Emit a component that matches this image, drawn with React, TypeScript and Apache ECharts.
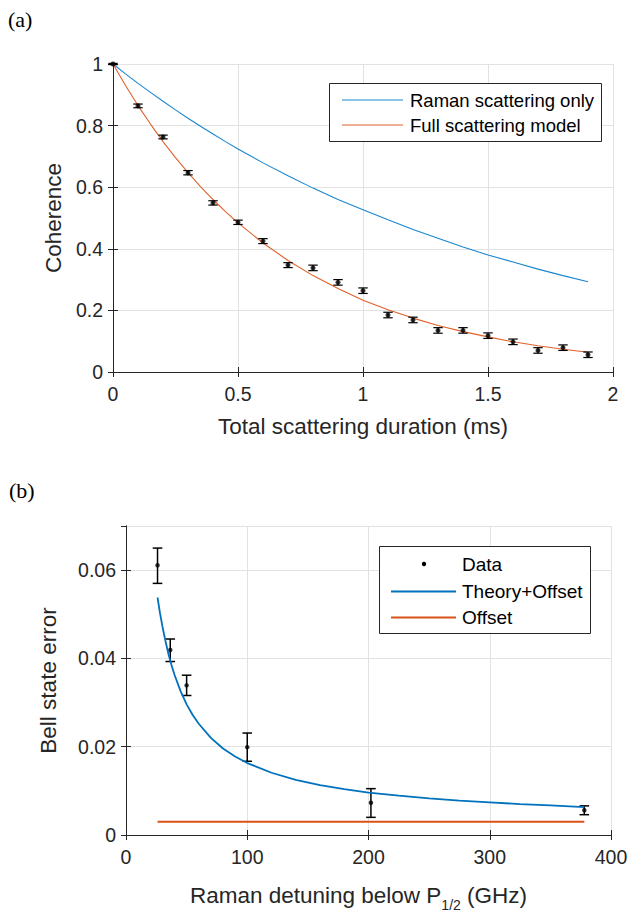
import React, { useEffect, useRef } from "react";
import * as echarts from "echarts";

// ---------- Panel (a) data ----------
const scatterTime = [0, 0.1, 0.2, 0.3, 0.4, 0.5, 0.6, 0.7, 0.8, 0.9, 1.0, 1.1, 1.2, 1.3, 1.4, 1.5, 1.6, 1.7, 1.8, 1.9];
const coherenceData = [1.0, 0.864, 0.763, 0.647, 0.549, 0.486, 0.425, 0.347, 0.338, 0.291, 0.264, 0.185, 0.169, 0.135, 0.135, 0.118, 0.098, 0.07, 0.079, 0.056];
const coherenceErr = [0.002, 0.006, 0.006, 0.007, 0.007, 0.007, 0.008, 0.008, 0.009, 0.009, 0.009, 0.009, 0.009, 0.009, 0.009, 0.009, 0.009, 0.009, 0.009, 0.009];
const curveTime = [0, 0.05, 0.1, 0.15, 0.2, 0.25, 0.3, 0.35, 0.4, 0.45, 0.5, 0.6, 0.7, 0.8, 0.9, 1.0, 1.1, 1.2, 1.3, 1.4, 1.5, 1.6, 1.7, 1.8, 1.9];
const ramanOnly = [1.0, 0.968, 0.937, 0.908, 0.879, 0.851, 0.824, 0.798, 0.773, 0.748, 0.724, 0.679, 0.637, 0.597, 0.56, 0.527, 0.494, 0.463, 0.434, 0.406, 0.38, 0.357, 0.334, 0.313, 0.293];
const fullModel = [1.0, 0.93, 0.865, 0.805, 0.748, 0.696, 0.647, 0.602, 0.56, 0.521, 0.484, 0.419, 0.362, 0.313, 0.271, 0.233, 0.202, 0.175, 0.151, 0.131, 0.114, 0.098, 0.085, 0.074, 0.064];
const xTicksA = { min: 0, max: 2, interval: 0.5 };
const yTicksA = { min: 0, max: 1, interval: 0.2 };

// ---------- Panel (b) data ----------
const detuning = [26, 36.5, 50, 100, 202, 378];
const bellError = [0.0611, 0.0419, 0.0339, 0.0199, 0.0073, 0.0056];
const bellLow = [0.057, 0.0393, 0.0316, 0.0167, 0.004, 0.0046];
const bellHigh = [0.065, 0.0444, 0.0362, 0.0231, 0.0105, 0.0066];
const theoryX = [26, 28, 30, 32.5, 35, 37.5, 40, 45, 50, 55, 60, 70, 80, 90, 100, 120, 140, 160, 180, 200, 225, 250, 275, 300, 325, 350, 378];
const theoryY = [0.0538, 0.0503, 0.0473, 0.044, 0.041, 0.0385, 0.0363, 0.0326, 0.0296, 0.0272, 0.0252, 0.022, 0.0196, 0.0178, 0.0163, 0.0141, 0.0125, 0.0113, 0.0104, 0.0096, 0.0089, 0.0083, 0.0078, 0.0074, 0.007, 0.0067, 0.0063];
const offsetX = [26, 378];
const offsetY = [0.003, 0.003];
const xTicksB = { min: 0, max: 400, interval: 100 };
const yTicksB = { min: 0, max: 0.07, interval: 0.02 };

const legendA = ["Raman scattering only", "Full scattering model"];
const legendB = ["Data", "Theory+Offset", "Offset"];

const BLUE = "#0072BD";
const BLUE_A = "#1a86d0";
const ORANGE = "#D95319";
const ORANGE_A = "#e0612a";
const AXIS = "#262626";
const GRIDC = "#e2e2e2";
const SANS = "'Liberation Sans', Arial, Helvetica, sans-serif";
const SERIF = "'Liberation Serif', 'Times New Roman', serif";

function errorBarRenderer(capHalf: number, lw: number) {
  return (params: any, api: any) => {
    const x = api.value(0);
    const lo = api.value(1);
    const hi = api.value(2);
    const pLo = api.coord([x, lo]);
    const pHi = api.coord([x, hi]);
    const st = { stroke: "#000", lineWidth: lw };
    return {
      type: "group",
      children: [
        { type: "line", shape: { x1: pLo[0], y1: pLo[1], x2: pHi[0], y2: pHi[1] }, style: st },
        { type: "line", shape: { x1: pLo[0] - capHalf, y1: pLo[1], x2: pLo[0] + capHalf, y2: pLo[1] }, style: st },
        { type: "line", shape: { x1: pHi[0] - capHalf, y1: pHi[1], x2: pHi[0] + capHalf, y2: pHi[1] }, style: st },
      ],
    };
  };
}

function mainX(gridIndex: number, t: any, name: string, nameGap: number, extraName: any = {}) {
  return {
    type: "value",
    gridIndex,
    position: "bottom",
    min: t.min,
    max: t.max,
    interval: t.interval,
    name,
    nameLocation: "middle",
    nameGap,
    nameTextStyle: { fontFamily: SANS, fontSize: 22.5, color: AXIS, ...extraName },
    axisLine: { show: true, lineStyle: { color: AXIS, width: 1 } },
    axisTick: { show: true, inside: true, length: 5, lineStyle: { color: AXIS } },
    axisLabel: { show: true, fontFamily: SANS, fontSize: 19.5, color: AXIS, margin: 12 },
    splitLine: { show: true, lineStyle: { color: GRIDC, width: 1 } },
  };
}
function mirrorX(gridIndex: number, t: any) {
  return {
    type: "value",
    gridIndex,
    position: "top",
    min: t.min,
    max: t.max,
    interval: t.interval,
    axisLine: { show: true, lineStyle: { color: AXIS, width: 1 } },
    axisTick: { show: true, inside: true, length: 5, lineStyle: { color: AXIS } },
    axisLabel: { show: false },
    splitLine: { show: false },
  };
}
function mainY(gridIndex: number, t: any, name: string, nameGap: number) {
  return {
    type: "value",
    gridIndex,
    position: "left",
    min: t.min,
    max: t.max,
    interval: t.interval,
    name,
    nameLocation: "middle",
    nameGap,
    nameTextStyle: { fontFamily: SANS, fontSize: 22.5, color: AXIS },
    axisLine: { show: true, lineStyle: { color: AXIS, width: 1 } },
    axisTick: { show: true, inside: true, length: 5, lineStyle: { color: AXIS } },
    axisLabel: { show: true, fontFamily: SANS, fontSize: 19.5, color: AXIS, margin: 10, showMaxLabel: t.max === 1 },
    splitLine: { show: true, lineStyle: { color: GRIDC, width: 1 } },
  };
}
function mirrorY(gridIndex: number, t: any) {
  return {
    type: "value",
    gridIndex,
    position: "right",
    min: t.min,
    max: t.max,
    interval: t.interval,
    axisLine: { show: true, lineStyle: { color: AXIS, width: 1 } },
    axisTick: { show: true, inside: true, length: 5, lineStyle: { color: AXIS } },
    axisLabel: { show: false },
    splitLine: { show: false },
  };
}

export default function App() {
  const ref = useRef<HTMLDivElement>(null);
  useEffect(() => {
    if (!ref.current) return;
    const chart = echarts.init(ref.current, undefined, { renderer: "svg" });

    const lt = (text: string, x: number, y: number, size: number) => ({
      type: "text",
      z: 101,
      x,
      y,
      style: { text, fontFamily: SANS, fontSize: size, fill: "#000", textVerticalAlign: "middle" },
    });

    const option: any = {
      animation: false,
      backgroundColor: "#fff",
      grid: [
        { left: 113, top: 64, width: 500, height: 308 },
        { left: 126, top: 526, width: 485, height: 317 },
      ],
      xAxis: [
        mainX(0, xTicksA, "Total scattering duration (ms)", 43),
        mirrorX(0, xTicksA),
        mainX(1, xTicksB, "Raman detuning below P{sub|1/2} (GHz)", 43, {
          lineHeight: 34,
          padding: [0, 20, 0, 0],
          rich: { sub: { fontFamily: SANS, fontSize: 14, lineHeight: 6, verticalAlign: "bottom", color: AXIS } },
        }),
        mirrorX(1, xTicksB),
      ],
      yAxis: [
        mainY(0, yTicksA, "Coherence", 45),
        mirrorY(0, yTicksA),
        mainY(1, yTicksB, "Bell state error", 66),
        mirrorY(1, yTicksB),
      ],
      series: [
        {
          name: legendA[0],
          type: "line",
          xAxisIndex: 0,
          yAxisIndex: 0,
          symbol: "none",
          lineStyle: { color: BLUE_A, width: 1.1 },
          data: curveTime.map((t, i) => [t, ramanOnly[i]]),
          z: 2,
        },
        {
          name: legendA[1],
          type: "line",
          xAxisIndex: 0,
          yAxisIndex: 0,
          symbol: "none",
          lineStyle: { color: ORANGE_A, width: 1.1 },
          data: curveTime.map((t, i) => [t, fullModel[i]]),
          z: 2,
        },
        {
          name: "coherenceErrorBars",
          type: "custom",
          xAxisIndex: 0,
          yAxisIndex: 0,
          clip: false,
          renderItem: errorBarRenderer(4.7, 1.2),
          encode: { x: 0, y: [1, 2] },
          data: scatterTime.map((t, i) => [t, coherenceData[i] - coherenceErr[i], coherenceData[i] + coherenceErr[i]]),
          z: 3,
        },
        {
          name: "coherenceData",
          type: "scatter",
          xAxisIndex: 0,
          yAxisIndex: 0,
          clip: false,
          symbol: "circle",
          symbolSize: 5,
          itemStyle: { color: "#000" },
          data: scatterTime.map((t, i) => [t, coherenceData[i]]),
          z: 4,
        },
        {
          name: "bellErrorBars",
          type: "custom",
          xAxisIndex: 2,
          yAxisIndex: 2,
          clip: false,
          renderItem: errorBarRenderer(4.8, 1.5),
          encode: { x: 0, y: [1, 2] },
          data: detuning.map((d, i) => [d, bellLow[i], bellHigh[i]]),
          z: 2,
        },
        {
          name: legendB[0],
          type: "scatter",
          xAxisIndex: 2,
          yAxisIndex: 2,
          symbol: "circle",
          symbolSize: 4.5,
          itemStyle: { color: "#000" },
          data: detuning.map((d, i) => [d, bellError[i]]),
          z: 3,
        },
        {
          name: legendB[1],
          type: "line",
          xAxisIndex: 2,
          yAxisIndex: 2,
          symbol: "none",
          lineStyle: { color: BLUE, width: 1.8 },
          data: theoryX.map((x, i) => [x, theoryY[i]]),
          z: 4,
        },
        {
          name: legendB[2],
          type: "line",
          xAxisIndex: 2,
          yAxisIndex: 2,
          symbol: "none",
          lineStyle: { color: ORANGE, width: 1.8 },
          data: offsetX.map((x, i) => [x, offsetY[i]]),
          z: 4,
        },
      ],
      graphic: [
        { type: "text", z: 101, left: 8, top: 8, style: { text: "(a)", fontFamily: SERIF, fontSize: 22, fill: "#000" } },
        { type: "text", z: 101, left: 9, top: 479, style: { text: "(b)", fontFamily: SERIF, fontSize: 22, fill: "#000" } },
        { type: "rect", z: 100, shape: { x: 329.5, y: 83.5, width: 272, height: 58 }, style: { fill: "#fff", stroke: AXIS, lineWidth: 1 } },
        { type: "line", z: 101, shape: { x1: 342, y1: 100, x2: 403, y2: 100 }, style: { stroke: BLUE_A, lineWidth: 1.1 } },
        { type: "line", z: 101, shape: { x1: 342, y1: 125, x2: 403, y2: 125 }, style: { stroke: ORANGE_A, lineWidth: 1.1 } },
        lt(legendA[0], 410, 100, 18.5),
        lt(legendA[1], 410, 125, 18.5),
        { type: "rect", z: 100, shape: { x: 379.5, y: 546.5, width: 211, height: 87 }, style: { fill: "#fff", stroke: AXIS, lineWidth: 1 } },
        { type: "circle", z: 101, shape: { cx: 424, cy: 564, r: 2.2 }, style: { fill: "#000" } },
        { type: "line", z: 101, shape: { x1: 391, y1: 591.5, x2: 456, y2: 591.5 }, style: { stroke: BLUE, lineWidth: 1.8 } },
        { type: "line", z: 101, shape: { x1: 391, y1: 617.5, x2: 456, y2: 617.5 }, style: { stroke: ORANGE, lineWidth: 1.8 } },
        lt(legendB[0], 462, 564, 19),
        lt(legendB[1], 462, 591.5, 19),
        lt(legendB[2], 462, 617.5, 19),
      ],
    };
    chart.setOption(option);
    return () => chart.dispose();
  }, []);
  return (
    <div
      ref={ref}
      style={{ position: "absolute", left: 0, top: 0, width: 637, height: 913, background: "#fff" }}
    />
  );
}
